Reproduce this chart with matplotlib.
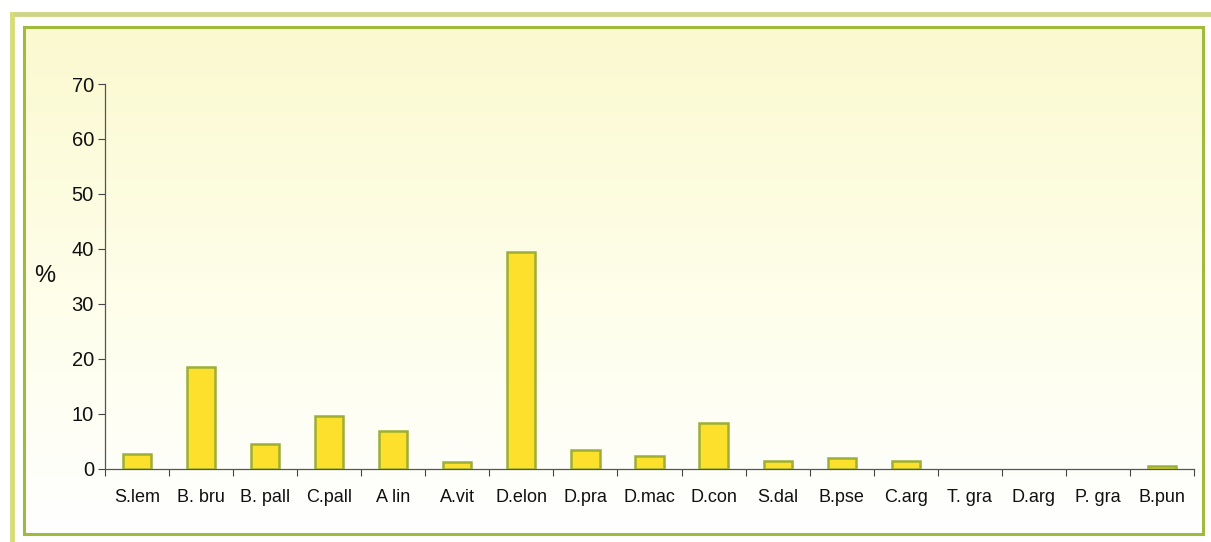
import matplotlib
matplotlib.use('Agg')
import numpy as np
import matplotlib.pyplot as plt
from matplotlib.patches import Rectangle
from matplotlib.colors import LinearSegmentedColormap

# species codes and share of catch (%)
species = ['S.lem', 'B. bru', 'B. pall', 'C.pall', 'A lin', 'A.vit', 'D.elon',
           'D.pra', 'D.mac', 'D.con', 'S.dal', 'B.pse', 'C.arg', 'T. gra',
           'D.arg', 'P. gra', 'B.pun']
percent = [2.7, 18.5, 4.4, 9.6, 6.8, 1.2, 39.5, 3.4, 2.2, 8.3, 1.3, 2.0, 1.3,
           0.0, 0.0, 0.0, 0.5]
y_ticks = [0, 10, 20, 30, 40, 50, 60, 70]

W, H = 1211, 542
plt.rcParams['font.family'] = ['Liberation Sans', 'DejaVu Sans']
plt.rcParams['text.color'] = '#111111'
plt.rcParams['xtick.labelcolor'] = '#111111'
plt.rcParams['ytick.labelcolor'] = '#111111'

fig = plt.figure(figsize=(W / 100, H / 100), dpi=100)
fig.patch.set_facecolor('white')

# ---- frame and pale yellow panel drawn in pixel coordinates
bg = fig.add_axes([0, 0, 1, 1])
bg.set_xlim(0, W)
bg.set_ylim(H, 0)
bg.axis('off')

grad = LinearSegmentedColormap.from_list('panel', ['#fbf9cf', '#fefee9', '#ffffff'])
bg.imshow(np.linspace(0, 1, 256).reshape(-1, 1), cmap=grad, aspect='auto',
          extent=[24, 1203, 534, 27], zorder=0)
bg.add_patch(Rectangle((24, 27), 1203 - 24, 534 - 27, fill=False,
                       edgecolor='#9fba3c', linewidth=2.2, zorder=2))
# outer frame edges
bg.plot([10, W], [13.5, 13.5], color='#cdd585', linewidth=3.5, solid_capstyle='butt')
bg.plot([11.5, 11.5], [12, H], color='#d7dc7a', linewidth=3.5, solid_capstyle='butt')

# ---- bar chart
ax = fig.add_axes([105 / W, (H - 468.5) / H, (1194 - 105) / W, (468.5 - 84) / H])
ax.patch.set_alpha(0)

x = np.arange(len(species))
edge_w = [1.8 if v > 0 else 0 for v in percent]
ax.bar(x, percent, width=0.44, color='#fde02c', edgecolor='#9cae35',
       linewidth=edge_w, zorder=3)

ax.set_xlim(-0.5, len(species) - 0.5)
ax.set_ylim(0, 70)
ax.set_yticks(y_ticks)
ax.tick_params(axis='y', labelsize=14.5, length=5, width=0.8, color='#444444', pad=3)

# tick marks between categories, labels centred under bars
ax.set_xticks(np.arange(-0.5, len(species), 1.0))
ax.set_xticklabels([])
ax.set_xticks(x, minor=True)
ax.set_xticklabels(species, minor=True)
ax.tick_params(axis='x', which='major', length=5, width=0.8, color='#444444')
ax.tick_params(axis='x', which='minor', length=0, labelsize=13, pad=15)

for side in ['top', 'right']:
    ax.spines[side].set_visible(False)
for side in ['left', 'bottom']:
    ax.spines[side].set_color('#555555')
    ax.spines[side].set_linewidth(0.9)

fig.text(45 / W, 1 - 276 / H, '%', fontsize=17, ha='center', va='center')

fig.savefig('out.png', dpi=100)
